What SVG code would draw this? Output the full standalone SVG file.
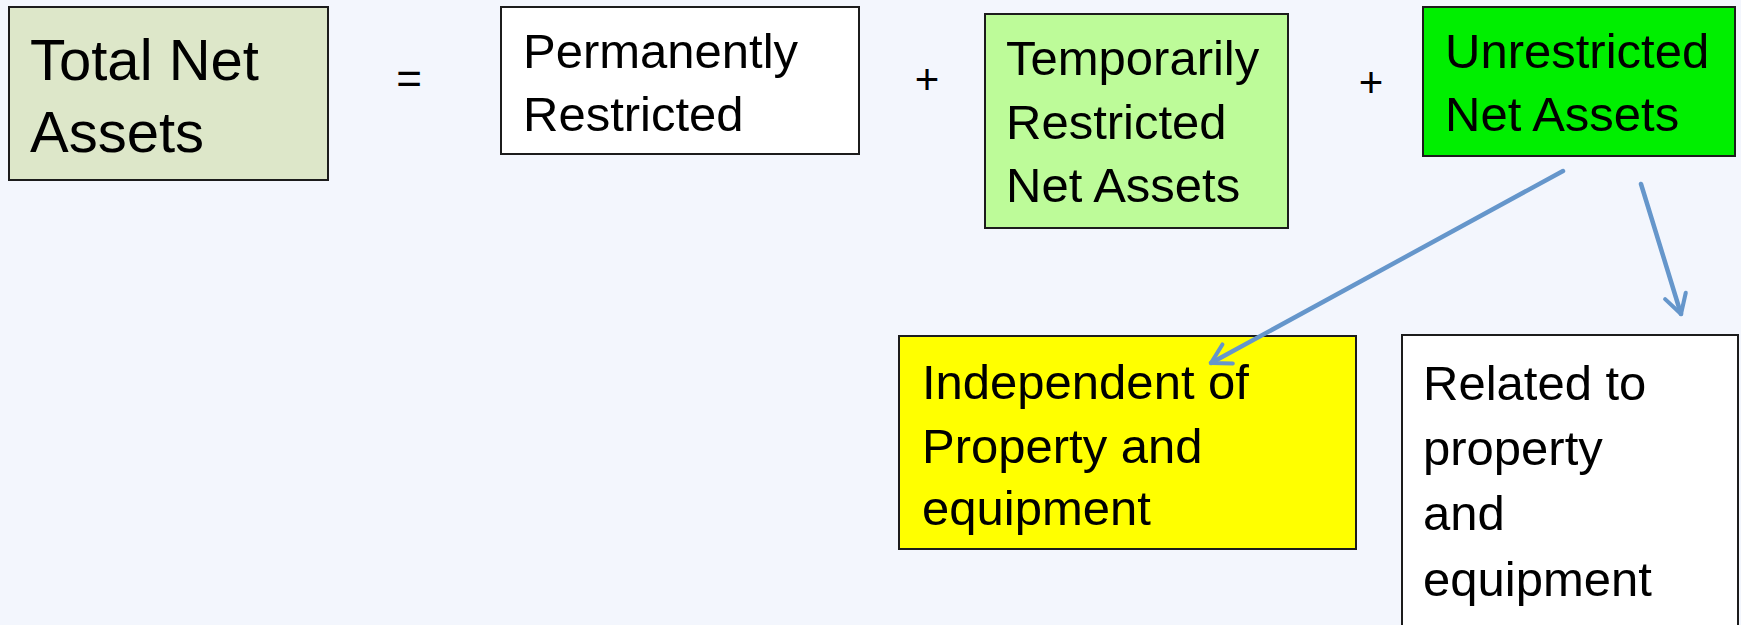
<svg xmlns="http://www.w3.org/2000/svg" width="1741" height="625" viewBox="0 0 1741 625">
<style>
.box{stroke:#1c1c1c;stroke-width:2}
.t{font-family:"Liberation Sans",Arial,sans-serif;fill:#000}
.big{font-size:58px}
.mid{font-size:49px}
.op{font-family:"Liberation Sans",Arial,sans-serif;fill:#000;text-anchor:middle}
.conn{stroke:#6596cb;stroke-width:4.5;fill:none;stroke-linecap:round}
</style>
<defs>
<marker id="arr" viewBox="0 0 20 20" refX="17" refY="10" markerWidth="6" markerHeight="6" markerUnits="strokeWidth" orient="auto">
<path d="M3,2 L17,10 L3,18" fill="none" stroke="#6596cb" stroke-width="3" stroke-linecap="round" stroke-linejoin="round"/>
</marker>
</defs>
<rect width="1741" height="625" fill="#f3f6fd"/>
<g id="total">
<rect class="box" x="9" y="7" width="319" height="173" fill="#dde7c9"/>
<text class="t big" x="30" y="80">Total Net</text>
<text class="t big" x="30" y="152">Assets</text>
</g>
<text class="op" x="409" y="94" font-size="44">=</text>
<g id="permanently">
<rect class="box" x="501" y="7" width="358" height="147" fill="#ffffff"/>
<text class="t mid" x="523" y="68">Permanently</text>
<text class="t mid" x="523" y="131">Restricted</text>
</g>
<text class="op" x="927" y="94" font-size="42">+</text>
<g id="temporarily">
<rect class="box" x="985" y="14" width="303" height="214" fill="#bdfb99"/>
<text class="t mid" x="1006" y="75">Temporarily</text>
<text class="t mid" x="1006" y="139">Restricted</text>
<text class="t mid" x="1006" y="202">Net Assets</text>
</g>
<text class="op" x="1371" y="97" font-size="42">+</text>
<g id="unrestricted">
<rect class="box" x="1423" y="7" width="312" height="149" fill="#00ef00"/>
<text class="t mid" x="1445" y="68">Unrestricted</text>
<text class="t mid" x="1445" y="131">Net Assets</text>
</g>
<g id="independent">
<rect class="box" x="899" y="336" width="457" height="213" fill="#ffff00"/>
<text class="t mid" x="922" y="399">Independent of</text>
<text class="t mid" x="922" y="463">Property and</text>
<text class="t mid" x="922" y="525">equipment</text>
</g>
<g id="related">
<rect class="box" x="1402" y="335" width="336" height="300" fill="#ffffff"/>
<text class="t mid" x="1423" y="400">Related to</text>
<text class="t mid" x="1423" y="465">property</text>
<text class="t mid" x="1423" y="530">and</text>
<text class="t mid" x="1423" y="596">equipment</text>
</g>
<g id="connectors">
<line class="conn" x1="1563" y1="171" x2="1211" y2="363" marker-end="url(#arr)"/>
<line class="conn" x1="1641" y1="184" x2="1681" y2="314" marker-end="url(#arr)"/>
</g>
</svg>
